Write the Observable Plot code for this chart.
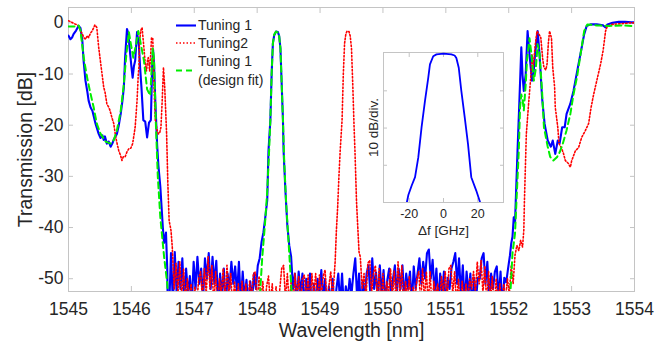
<!DOCTYPE html>
<html><head><meta charset="utf-8">
<script src="https://cdn.jsdelivr.net/npm/d3@7"></script>
<script src="https://cdn.jsdelivr.net/npm/@observablehq/plot@0.6"></script>
<style>
body{margin:0;background:#fff;}
#wrap{position:relative;width:666px;height:345px;font-family:"Liberation Sans",Arial,Helvetica,sans-serif;}
#wrap svg{position:absolute;}
</style></head><body><div id="wrap"></div>
<script>
// ---------- data ----------
const xTicks = [1545,1546,1547,1548,1549,1550,1551,1552,1553,1554];
const yTicks = [0,-10,-20,-30,-40,-50];
const insetXTicks = [-20,0,20];
const insetYTicks = [-10,-20,-30];
const seriesNames = ["Tuning 1","Tuning2","Tuning 1\n(design fit)"];

const tuning1Left = [[1545.00,-2.5],[1545.03,-3.2],[1545.06,-2.8],[1545.08,-2.2],[1545.12,-1.5],[1545.16,-0.6],[1545.19,-1.0],[1545.22,-3.5],[1545.24,-7.4],[1545.27,-11.3],[1545.30,-13.5],[1545.32,-15.2],[1545.35,-16.5],[1545.38,-17.2],[1545.43,-19.7],[1545.48,-21.7],[1545.51,-22.5],[1545.54,-22.0],[1545.56,-22.9],[1545.58,-22.2],[1545.61,-23.6],[1545.64,-23.2],[1545.67,-24.2],[1545.70,-23.5],[1545.72,-22.8],[1545.77,-21.7],[1545.80,-20.0],[1545.83,-17.8],[1545.86,-15.0],[1545.88,-12.6],[1545.90,-6.8],[1545.93,-1.2],[1545.95,-2.0],[1545.98,-6.0],[1546.00,-8.5],[1546.02,-10.7],[1546.04,-8.5],[1546.06,-7.4],[1546.09,-1.8],[1546.12,-4.5],[1546.14,-9.0],[1546.16,-12.6],[1546.19,-19.0],[1546.22,-19.3],[1546.25,-22.4],[1546.28,-19.5],[1546.31,-19.0],[1546.33,-8.7],[1546.345,-5.2],[1546.36,-8.0],[1546.38,-15.2],[1546.41,-24.0],[1546.43,-28.0],[1546.46,-32.0],[1546.48,-36.0],[1546.50,-40.0],[1546.52,-43.0],[1546.55,-41.0],[1546.57,-48.0],[1546.58,-57.0]];
const tuning1FloorA = [[1546.60,-56],[1546.63,-45],[1546.66,-55],[1546.69,-44.8],[1546.72,-53],[1546.75,-46.7],[1546.78,-52],[1546.81,-46],[1546.84,-54],[1546.87,-48],[1546.90,-53],[1546.93,-49.5],[1546.96,-55],[1546.99,-46.7],[1547.02,-52],[1547.05,-45.7],[1547.08,-51],[1547.11,-48],[1547.14,-54],[1547.17,-46],[1547.20,-50],[1547.23,-45],[1547.26,-52],[1547.29,-45.7],[1547.32,-51],[1547.35,-46.5],[1547.38,-55],[1547.41,-49],[1547.44,-53],[1547.47,-48],[1547.50,-56],[1547.53,-49],[1547.56,-52],[1547.59,-46.7],[1547.62,-51],[1547.65,-47.6],[1547.68,-53],[1547.71,-46.7],[1547.74,-55],[1547.77,-48.6],[1547.80,-54],[1547.83,-50.2],[1547.86,-56],[1547.89,-50.5],[1547.92,-54],[1547.95,-49],[1547.98,-52],[1548.01,-47.4],[1548.04,-46]];
const tuning1Pass = [[1548.07,-42.8],[1548.10,-40.9],[1548.13,-37.9],[1548.16,-34.7],[1548.18,-25],[1548.21,-19],[1548.23,-10],[1548.25,-4],[1548.27,-2.5],[1548.30,-1.7],[1548.33,-1.8],[1548.35,-2.6],[1548.37,-5],[1548.39,-12],[1548.41,-19],[1548.42,-25],[1548.45,-33],[1548.48,-39.6],[1548.51,-43.5]];
const tuning1FloorB = [[1548.54,-45.7],[1548.57,-52],[1548.60,-49],[1548.63,-55],[1548.66,-48.6],[1548.69,-53],[1548.72,-49],[1548.75,-56],[1548.78,-50],[1548.81,-54],[1548.84,-49],[1548.87,-57],[1548.90,-51],[1548.93,-55],[1548.96,-50],[1548.99,-53],[1549.02,-48.3],[1549.05,-54],[1549.08,-50],[1549.11,-57],[1549.14,-51.5],[1549.17,-55],[1549.20,-50],[1549.23,-56],[1549.26,-52],[1549.29,-49],[1549.32,-55],[1549.35,-49],[1549.38,-56],[1549.41,-51.5],[1549.44,-54],[1549.47,-50],[1549.50,-53],[1549.53,-49],[1549.56,-46],[1549.59,-54],[1549.62,-49],[1549.65,-56],[1549.68,-50.5],[1549.71,-54],[1549.74,-49],[1549.77,-47.4],[1549.80,-53],[1549.83,-46],[1549.86,-52],[1549.89,-48.8],[1549.92,-54],[1549.95,-47.4],[1549.98,-53],[1550.01,-48.3],[1550.04,-55],[1550.07,-50.2],[1550.10,-48],[1550.13,-54],[1550.16,-50],[1550.19,-47.4],[1550.22,-53],[1550.25,-48],[1550.28,-52],[1550.31,-47.4],[1550.34,-54],[1550.37,-49],[1550.40,-52],[1550.43,-48.6],[1550.46,-55],[1550.49,-47.6],[1550.52,-52],[1550.55,-49],[1550.58,-46],[1550.61,-51],[1550.64,-46.7],[1550.67,-50],[1550.70,-45],[1550.73,-44.3],[1550.76,-50],[1550.79,-46.3],[1550.82,-53],[1550.85,-48],[1550.88,-55],[1550.91,-49],[1550.94,-53],[1550.97,-48.6],[1551.00,-56],[1551.03,-49.8],[1551.06,-52],[1551.09,-48],[1551.12,-46.7],[1551.15,-45],[1551.18,-51],[1551.21,-46],[1551.24,-53],[1551.27,-47.4],[1551.30,-55],[1551.33,-48.6],[1551.36,-53],[1551.39,-49],[1551.42,-56],[1551.45,-49.8],[1551.48,-54],[1551.51,-49.8],[1551.54,-50],[1551.57,-46],[1551.60,-45],[1551.63,-51],[1551.66,-46.7],[1551.69,-54],[1551.72,-49],[1551.75,-52],[1551.78,-48.6],[1551.81,-47.6],[1551.84,-54],[1551.87,-48.6],[1551.90,-56],[1551.93,-49.8],[1551.96,-50.7],[1551.99,-48],[1552.02,-45.4]];
const tuning1Right = [[1552.04,-43.1],[1552.06,-41.8],[1552.08,-38],[1552.10,-39],[1552.12,-32],[1552.14,-25],[1552.17,-15.2],[1552.20,-4.8],[1552.22,-10.3],[1552.24,-13.3],[1552.27,-10],[1552.30,-1.6],[1552.33,-6.1],[1552.37,-11.3],[1552.39,-10.5],[1552.42,-6],[1552.46,-1.6],[1552.49,-6.1],[1552.53,-14.6],[1552.57,-19.7],[1552.62,-23],[1552.67,-24.2],[1552.70,-23],[1552.74,-25.6],[1552.78,-23],[1552.81,-23.5],[1552.85,-20.4],[1552.89,-20.4],[1552.92,-17.8],[1552.98,-15.8],[1553.03,-13.3],[1553.10,-8.7],[1553.15,-5.5],[1553.20,-2.2],[1553.24,-0.6],[1553.30,-0.3],[1553.40,-0.3],[1553.50,-0.5],[1553.54,-0.9],[1553.57,-0.3],[1553.65,0],[1553.75,0.2],[1553.85,0.2],[1553.95,0.1],[1554.0,0.1]];

const tuning2Left = [[1545.00,0.4],[1545.04,0.2],[1545.08,-0.1],[1545.12,-0.3],[1545.16,-0.6],[1545.19,-1.5],[1545.22,-2.2],[1545.25,-3.0],[1545.27,-3.2],[1545.30,-2.5],[1545.32,-2.9],[1545.35,-2.0],[1545.38,-1.5],[1545.42,-0.4],[1545.45,-0.9],[1545.48,-4.8],[1545.52,-8.7],[1545.56,-12.6],[1545.58,-13.5],[1545.61,-15.8],[1545.64,-16.5],[1545.66,-17.1],[1545.69,-18.5],[1545.72,-19.7],[1545.75,-22.3],[1545.78,-24],[1545.80,-25],[1545.83,-26],[1545.85,-26.9],[1545.87,-26.2],[1545.90,-26.2],[1545.93,-25.2],[1545.96,-24.6],[1545.99,-24.5],[1546.02,-23.6],[1546.04,-22],[1546.06,-20.4],[1546.09,-15.2],[1546.11,-10],[1546.12,-8.7],[1546.13,-3.5],[1546.15,-1.5],[1546.17,-0.9],[1546.20,-5],[1546.22,-8],[1546.24,-9.4],[1546.26,-7],[1546.27,-6.8],[1546.29,-9.4],[1546.31,-5.5],[1546.32,-2.9],[1546.34,-3],[1546.36,-12.6],[1546.38,-19],[1546.41,-21],[1546.43,-21.7],[1546.45,-21.5],[1546.47,-20.4],[1546.49,-15.2],[1546.51,-8.7],[1546.53,-12.6],[1546.56,-21.7],[1546.58,-31.5],[1546.60,-38.6],[1546.63,-40.6],[1546.65,-43.8]];
const tuning2FloorA = [[1546.68,-52],[1546.71,-47],[1546.74,-53],[1546.77,-46.7],[1546.80,-54],[1546.83,-48],[1546.86,-55],[1546.89,-50],[1546.92,-54],[1546.95,-51],[1546.98,-56],[1547.01,-51.5],[1547.04,-55],[1547.07,-50],[1547.10,-48.6],[1547.13,-54],[1547.16,-48],[1547.19,-53],[1547.22,-45.7],[1547.25,-52],[1547.28,-47.4],[1547.31,-55],[1547.34,-48.6],[1547.37,-56],[1547.40,-50],[1547.43,-53],[1547.46,-48],[1547.49,-54],[1547.52,-47.4],[1547.55,-53],[1547.58,-49],[1547.61,-56],[1547.64,-50.5],[1547.67,-55],[1547.70,-51],[1547.73,-57],[1547.76,-50.5],[1547.79,-55],[1547.82,-51],[1547.85,-56],[1547.88,-50.5],[1547.91,-54],[1547.94,-49],[1547.97,-48.7],[1548.00,-55],[1548.03,-49.5],[1548.06,-54],[1548.09,-50.5],[1548.12,-56],[1548.15,-51.5],[1548.18,-49.5],[1548.21,-55],[1548.24,-51],[1548.27,-57],[1548.30,-51.5],[1548.33,-56],[1548.36,-52],[1548.39,-48],[1548.42,-47.4],[1548.45,-54],[1548.48,-49],[1548.51,-55],[1548.54,-50.5],[1548.57,-56],[1548.60,-49],[1548.63,-54],[1548.66,-49.5],[1548.69,-55],[1548.72,-50],[1548.75,-49.3],[1548.78,-54],[1548.81,-49.3],[1548.84,-55],[1548.87,-49],[1548.90,-53],[1548.93,-49],[1548.96,-55],[1548.99,-49.3],[1549.02,-54],[1549.05,-49.5],[1549.08,-48.3],[1549.11,-55],[1549.14,-51.5],[1549.17,-48.6],[1549.20,-54],[1549.24,-46.7]];
const tuning2Pass = [[1549.26,-40.5],[1549.28,-36],[1549.30,-30],[1549.32,-25],[1549.35,-19],[1549.37,-10],[1549.39,-4],[1549.41,-2.2],[1549.43,-1.6],[1549.46,-1.7],[1549.48,-2.6],[1549.50,-5],[1549.52,-12],[1549.54,-20],[1549.555,-25],[1549.58,-35],[1549.60,-40],[1549.62,-44.8]];
const tuning2FloorB = [[1549.64,-45.7],[1549.67,-52],[1549.70,-49],[1549.73,-54],[1549.76,-47],[1549.79,-46.4],[1549.82,-53],[1549.85,-49],[1549.88,-47.4],[1549.91,-54],[1549.94,-48],[1549.97,-56],[1550.00,-49],[1550.03,-55],[1550.06,-50.5],[1550.09,-53],[1550.12,-48],[1550.15,-54],[1550.18,-48.5],[1550.21,-55],[1550.24,-46.7],[1550.27,-53],[1550.30,-47.5],[1550.33,-56],[1550.36,-50.5],[1550.39,-54],[1550.42,-49.5],[1550.45,-56],[1550.48,-51.5],[1550.51,-54],[1550.54,-50],[1550.57,-48.6],[1550.60,-55],[1550.63,-48],[1550.66,-54],[1550.69,-48.6],[1550.72,-55],[1550.75,-48.6],[1550.78,-56],[1550.81,-50.5],[1550.84,-54],[1550.87,-51],[1550.90,-55],[1550.93,-49.5],[1550.96,-53],[1550.99,-48.6],[1551.02,-54],[1551.05,-48],[1551.08,-47.4],[1551.11,-53],[1551.14,-48.6],[1551.17,-55],[1551.20,-50],[1551.23,-56],[1551.26,-50.5],[1551.29,-55],[1551.32,-51],[1551.35,-54],[1551.38,-50],[1551.41,-52],[1551.44,-48.6],[1551.47,-53],[1551.50,-46.7],[1551.53,-51],[1551.56,-46.4],[1551.59,-53],[1551.62,-47.5],[1551.65,-55],[1551.68,-48.6],[1551.71,-54],[1551.74,-49.5],[1551.77,-56],[1551.80,-50],[1551.83,-55],[1551.86,-51],[1551.89,-56],[1551.92,-51],[1551.95,-54],[1551.98,-50],[1552.01,-53],[1552.04,-47.4],[1552.07,-51]];
const tuning2Right = [[1552.10,-45.4],[1552.13,-43.5],[1552.16,-44.5],[1552.19,-42.5],[1552.22,-43.8],[1552.24,-40.5],[1552.25,-34.7],[1552.28,-21.7],[1552.32,-15.2],[1552.35,-10.7],[1552.37,-6.1],[1552.39,-8.7],[1552.42,-4.5],[1552.45,-1.6],[1552.48,-2.2],[1552.51,-2.9],[1552.54,-7],[1552.56,-8.7],[1552.59,-9.2],[1552.61,-8],[1552.63,-4],[1552.65,-1.6],[1552.68,-3],[1552.70,-8.7],[1552.73,-12.6],[1552.74,-16.5],[1552.78,-20.4],[1552.80,-23.6],[1552.84,-24.5],[1552.87,-25.5],[1552.90,-26.9],[1552.95,-27.5],[1552.98,-28.2],[1553.00,-27],[1553.03,-26],[1553.06,-25],[1553.11,-24.4],[1553.16,-22.4],[1553.22,-21],[1553.27,-19.7],[1553.31,-16.5],[1553.35,-14],[1553.40,-11.3],[1553.46,-8.1],[1553.50,-5.5],[1553.54,-1.6],[1553.57,-0.6],[1553.65,-0.3],[1553.75,-0.2],[1553.85,-0.1],[1553.95,0],[1554.0,0]];

const designFit = [[1545.00,-0.7],[1545.10,-0.7],[1545.16,-0.5],[1545.19,-1.5],[1545.24,-6.6],[1545.29,-10.3],[1545.34,-13.3],[1545.40,-16.5],[1545.45,-19.7],[1545.51,-21.7],[1545.59,-23.2],[1545.67,-23.6],[1545.72,-22.9],[1545.77,-21],[1545.83,-17.2],[1545.88,-12],[1545.92,-6.2],[1545.96,-1.8],[1545.99,-4],[1546.03,-6.8],[1546.07,-4.5],[1546.11,-1.6],[1546.14,-3.5],[1546.20,-7.4],[1546.25,-13],[1546.30,-14.2],[1546.34,-5.0],[1546.36,-7],[1546.39,-20],[1546.42,-30],[1546.46,-38],[1546.52,-45.7],[1546.57,-51],[1546.62,-60],[1548.00,-60],[1548.05,-52],[1548.08,-46],[1548.12,-40],[1548.16,-33],[1548.19,-25],[1548.21,-19],[1548.23,-10],[1548.25,-4],[1548.27,-2.3],[1548.30,-1.7],[1548.33,-1.9],[1548.35,-2.6],[1548.37,-5],[1548.39,-12],[1548.41,-19],[1548.43,-27],[1548.46,-35],[1548.50,-43],[1548.54,-51],[1548.58,-60],[1551.98,-60],[1552.03,-52],[1552.06,-45],[1552.10,-41.2],[1552.13,-33],[1552.16,-25],[1552.18,-16.5],[1552.20,-14],[1552.22,-15],[1552.24,-17.1],[1552.27,-12],[1552.29,-7.4],[1552.33,-3],[1552.36,-6],[1552.40,-11.3],[1552.43,-9],[1552.46,-4.2],[1552.49,-6],[1552.53,-13.3],[1552.56,-20.4],[1552.62,-24.2],[1552.66,-26.2],[1552.71,-26.9],[1552.77,-26.2],[1552.81,-25.3],[1552.86,-23.6],[1552.92,-21],[1552.98,-17.8],[1553.03,-14],[1553.09,-10.3],[1553.15,-5.5],[1553.20,-1.6],[1553.25,-0.3],[1553.40,-0.5],[1553.60,-0.6],[1553.80,-0.5],[1553.95,-0.6],[1554.00,-0.9]];

const insetFreq = [-22.5,-21.4,-20.5,-18.6,-16.6,-14.7,-12.8,-10.8,-8.9,-7.9,-6.0,-4.1,0,4.6,6.5,7.5,8.9,10.4,12.4,14.3,16.2,19.1,21.4,22.5];
const insetDb   = [-43,-40,-38,-35.5,-33.2,-27.9,-19.8,-12.7,-6.5,-2.9,-0.7,-0.2,0,-0.2,-0.5,-1.2,-3.8,-10,-17.2,-24.3,-33.2,-36.8,-40,-43];

// ---------- styling ----------
const FONT = '"Liberation Sans", Arial, Helvetica, sans-serif';
const TXT = "#262626";
const FRAME = "#c4c4c4";
const BLUE = "#0000ff", RED = "#ff0000", GREEN = "#00ee00";
const RED_DASH = "1.5,2";
const fmt = d => String(d);
const rows = pts => pts.map(([w, t]) => ({w, t}));

const t1 = rows([...tuning1Left, ...tuning1FloorA, ...tuning1Pass, ...tuning1FloorB, ...tuning1Right]);
const t2 = rows([...tuning2Left, ...tuning2FloorA, ...tuning2Pass, ...tuning2FloorB, ...tuning2Right]);
const fit = rows(designFit);
const insetRows = insetFreq.map((f, i) => ({f, t: insetDb[i]}));

const wrap = document.getElementById("wrap");

const main = Plot.plot({
  width: 666, height: 345,
  marginLeft: 68, marginRight: 32, marginTop: 7, marginBottom: 54,
  style: {fontFamily: FONT, fontSize: "17.5px", color: TXT, background: "transparent", overflow: "visible"},
  x: {domain: [1545, 1554]},
  y: {domain: [-52.5, 3]},
  marks: [
    Plot.frame({stroke: FRAME}),
    Plot.axisX(xTicks, {anchor: "bottom", tickSize: 5, dy: -5, stroke: FRAME, fill: "none", label: null}),
    Plot.axisX(xTicks, {anchor: "top", tickSize: 5, dy: 5, stroke: FRAME, fill: "none", label: null}),
    Plot.axisY(yTicks, {anchor: "left", tickSize: 5, dx: 5, stroke: FRAME, fill: "none", label: null}),
    Plot.axisY(yTicks, {anchor: "right", tickSize: 5, dx: -5, stroke: FRAME, fill: "none", label: null}),
    Plot.axisX(xTicks, {anchor: "bottom", tickSize: 0, tickPadding: 11, fill: TXT, tickFormat: fmt, label: null}),
    Plot.axisY(yTicks, {anchor: "left", tickSize: 0, tickPadding: 5, fill: TXT, tickFormat: fmt, label: null}),
    Plot.line(t1, {x: "w", y: "t", stroke: BLUE, strokeWidth: 2.1, clip: true}),
    Plot.line(t2, {x: "w", y: "t", stroke: RED, strokeWidth: 1.6, strokeDasharray: RED_DASH, clip: true}),
    Plot.line(fit, {x: "w", y: "t", stroke: GREEN, strokeWidth: 2, strokeDasharray: "6,4", clip: true}),
    Plot.text(["Wavelength [nm]"], {text: d => d, frameAnchor: "bottom", dy: 39, lineAnchor: "middle", textAnchor: "middle", fontSize: 19.5, fill: TXT}),
    Plot.text(["Transmission [dB]"], {text: d => d, frameAnchor: "left", dx: -43, rotate: -90, lineAnchor: "middle", textAnchor: "middle", fontSize: 19.5, fill: TXT})
  ]
});
main.style.left = "0px"; main.style.top = "0px";
wrap.appendChild(main);

const inset = Plot.plot({
  width: 170, height: 200,
  marginLeft: 40, marginRight: 10, marginTop: 12, marginBottom: 38,
  style: {fontFamily: FONT, fontSize: "12.5px", color: TXT, background: "transparent", overflow: "visible"},
  x: {domain: [-35, 35]},
  y: {domain: [-40, 0.3]},
  marks: [
    Plot.frame({fill: "white", stroke: FRAME}),
    Plot.axisX(insetXTicks, {anchor: "bottom", tickSize: 4, dy: -4, stroke: FRAME, fill: "none", label: null}),
    Plot.axisX(insetXTicks, {anchor: "top", tickSize: 4, dy: 4, stroke: FRAME, fill: "none", label: null}),
    Plot.axisY(insetYTicks, {anchor: "left", tickSize: 4, dx: 4, stroke: FRAME, fill: "none", label: null}),
    Plot.axisY(insetYTicks, {anchor: "right", tickSize: 4, dx: -4, stroke: FRAME, fill: "none", label: null}),
    Plot.axisX(insetXTicks, {anchor: "bottom", tickSize: 0, tickPadding: 6.5, fill: TXT, tickFormat: fmt, label: null}),
    Plot.line(insetRows, {x: "f", y: "t", stroke: BLUE, strokeWidth: 1.8, clip: true}),
    Plot.text(["\u0394f [GHz]"], {text: d => d, frameAnchor: "bottom", dy: 28, lineAnchor: "middle", textAnchor: "middle", fontSize: 13.5, fill: TXT}),
    Plot.text(["10 dB/div."], {text: d => d, frameAnchor: "left", dx: -10, rotate: -90, lineAnchor: "middle", textAnchor: "middle", fontSize: 13.5, fill: TXT})
  ]
});
inset.style.left = "343px"; inset.style.top = "40px";
wrap.appendChild(inset);

// ---------- legend ----------
const legend = d3.select(wrap).append("svg")
  .attr("width", 666).attr("height", 345)
  .style("left", "0px").style("top", "0px")
  .style("font-family", FONT).style("font-size", "14px");
const legendStyle = [
  {stroke: BLUE, width: 2.1, dash: null, lineY: 25.5, textY: [30]},
  {stroke: RED, width: 1.6, dash: RED_DASH, lineY: 43, textY: [47.5]},
  {stroke: GREEN, width: 2, dash: "6,4", lineY: 70.5, textY: [65.5, 84.5]}
];
seriesNames.forEach((name, i) => {
  const s = legendStyle[i];
  legend.append("line").attr("x1", 176).attr("x2", 196).attr("y1", s.lineY).attr("y2", s.lineY)
    .attr("stroke", s.stroke).attr("stroke-width", s.width).attr("stroke-dasharray", s.dash);
  name.split("\n").forEach((line, j) => {
    legend.append("text").attr("x", 198).attr("y", s.textY[j]).attr("fill", TXT).text(line);
  });
});
</script></body></html>
